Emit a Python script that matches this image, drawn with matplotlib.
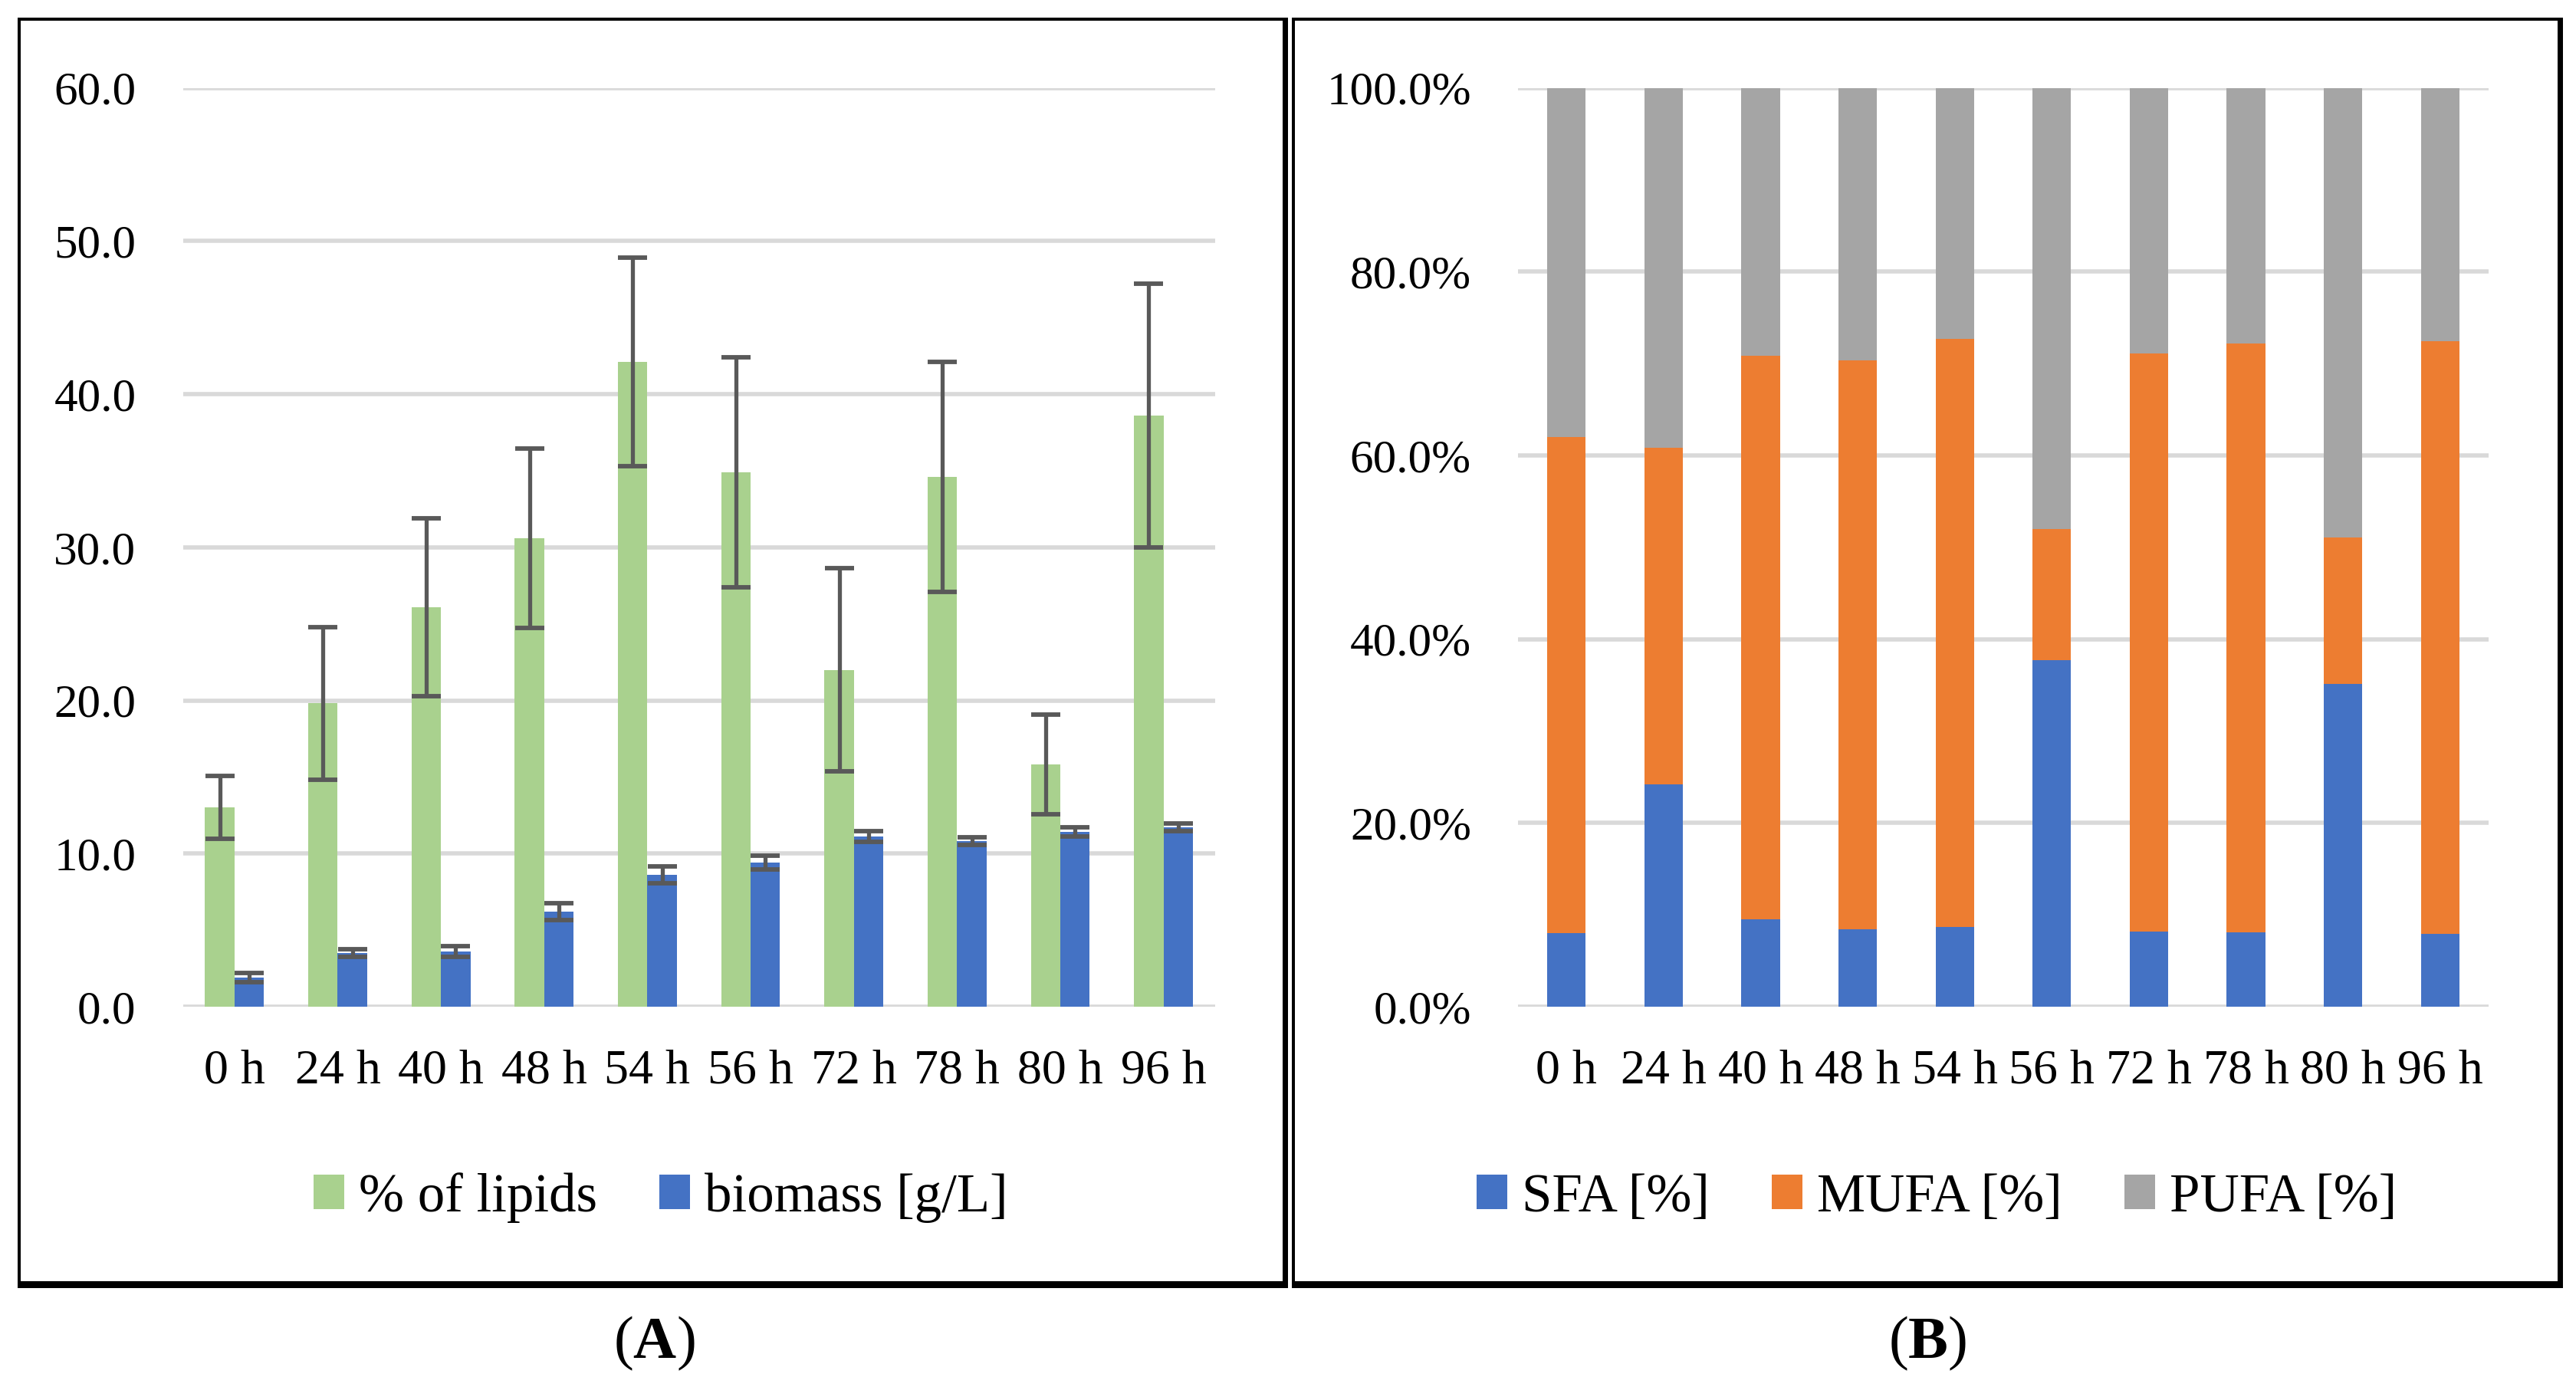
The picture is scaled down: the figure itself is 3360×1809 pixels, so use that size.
"""Two-panel lipid / fatty acid chart: (A) lipids and biomass, (B) SFA/MUFA/PUFA shares."""
import matplotlib
matplotlib.use("Agg")
import matplotlib.pyplot as plt  # noqa: E402
import numpy as np  # noqa: E402
from matplotlib.patches import Rectangle  # noqa: E402
from matplotlib.ticker import FuncFormatter  # noqa: E402

plt.rcParams["font.family"] = ["Liberation Serif", "DejaVu Serif"]
plt.rcParams["mathtext.fontset"] = "custom"
plt.rcParams["mathtext.rm"] = "Liberation Serif"
plt.rcParams["mathtext.bf"] = "Liberation Serif:bold"

hours = ["0 h", "24 h", "40 h", "48 h", "54 h", "56 h", "72 h", "78 h", "80 h", "96 h"]

# panel A
lipids = [13.0, 19.8, 26.1, 30.6, 42.1, 34.9, 22.0, 34.6, 15.8, 38.6]
lipids_err = [2.05, 5.0, 5.8, 5.85, 6.8, 7.5, 6.65, 7.5, 3.25, 8.6]
biomass = [1.9, 3.5, 3.6, 6.2, 8.6, 9.4, 11.1, 10.8, 11.4, 11.7]
biomass_err = [0.3, 0.25, 0.35, 0.55, 0.55, 0.45, 0.35, 0.25, 0.3, 0.25]

# panel B (percent of total fatty acids)
sfa = [8.05, 24.2, 9.5, 8.4, 8.7, 37.7, 8.2, 8.1, 35.1, 7.9]
mufa = [53.95, 36.6, 61.3, 61.9, 64.0, 14.3, 62.9, 64.1, 16.0, 64.5]
pufa = [38.0, 39.2, 29.2, 29.7, 27.3, 48.0, 28.9, 27.8, 48.9, 27.6]

C_GREEN = "#A9D18E"
C_BLUE = "#4472C4"
C_ORANGE = "#ED7D31"
C_GRAY = "#A5A5A5"
C_GRID = "#D9D9D9"
C_ERR = "#595959"

W, H = 3360, 1809
fig = plt.figure(figsize=(W / 100, H / 100), dpi=100)

AX_TOP, AX_BOTTOM = 114.5, 1313  # plot area rows, pixels from top


def fx(px):
    return px / W


def fy(py):
    return 1 - py / H


def block(x0, y0, x1, y1):
    # black filled strip, given in top-left pixel coords
    fig.add_artist(Rectangle((fx(x0), fy(y1)), fx(x1) - fx(x0), fy(y0) - fy(y1),
                             transform=fig.transFigure, color="black", lw=0))


def frame(x0, x1, y0=23, y1=1680):
    block(x0, y0, x1, y0 + 4)        # top
    block(x0, y0, x0 + 4, y1)        # left
    block(x1 - 7, y0, x1, y1)        # right (heavier)
    block(x0, y1 - 9, x1, y1)        # bottom (heavier)


def style_axes(ax):
    for s in ax.spines.values():
        s.set_visible(False)
    ax.set_axisbelow(True)
    ax.grid(axis="y", color=C_GRID, lw=4.0)
    ax.tick_params(axis="y", length=0, pad=44, labelsize=44)
    ax.tick_params(axis="x", length=0, pad=40, labelsize=46)
    ax.set_xlim(-0.5, len(hours) - 0.5)


x = np.arange(len(hours))

# ---- panel A
axA = fig.add_axes([fx(238.5), fy(AX_BOTTOM), fx(1585) - fx(238.5), fy(AX_TOP) - fy(AX_BOTTOM)])
w = 0.285
ekw = dict(ecolor=C_ERR, elinewidth=3.8, capsize=13.5, capthick=4.2)
axA.bar(x - w / 2, lipids, w, color=C_GREEN, yerr=lipids_err, error_kw=ekw,
        label="% of lipids")
axA.bar(x + w / 2, biomass, w, color=C_BLUE, yerr=biomass_err, error_kw=ekw,
        label="biomass [g/L]")
axA.set_ylim(0, 60)
axA.set_yticks(np.arange(0, 61, 10))
axA.yaxis.set_major_formatter(FuncFormatter(lambda v, _: f"{v:.1f}"))
axA.set_xticks(x)
axA.set_xticklabels(hours)
style_axes(axA)

# ---- panel B
axB = fig.add_axes([fx(1980), fy(AX_BOTTOM), fx(3246) - fx(1980), fy(AX_TOP) - fy(AX_BOTTOM)])
wb = 0.395
axB.bar(x, sfa, wb, color=C_BLUE, label="SFA [%]")
axB.bar(x, mufa, wb, bottom=sfa, color=C_ORANGE, label="MUFA [%]")
axB.bar(x, pufa, wb, bottom=np.add(sfa, mufa), color=C_GRAY, label="PUFA [%]")
axB.set_ylim(0, 100)
axB.set_yticks(np.arange(0, 101, 20))
axB.yaxis.set_major_formatter(FuncFormatter(lambda v, _: f"{v:.1f}%"))
axB.set_xticks(x)
axB.set_xticklabels(hours)
style_axes(axB)

# legends below each panel
lkw = dict(loc="center", ncol=3, frameon=False, fontsize=51, handlelength=0.56,
           handleheight=0.6, handletextpad=0.27, columnspacing=1.15)
axA.legend(bbox_to_anchor=(fx(862), fy(1562)), bbox_transform=fig.transFigure, **lkw)
axB.legend(bbox_to_anchor=(fx(2526), fy(1562)), bbox_transform=fig.transFigure, **lkw)

frame(23, 1680)
frame(1685, 3343)

fig.text(fx(853), fy(1752), r"($\mathbf{A}$)", ha="center", va="center", fontsize=56)
fig.text(fx(2514), fy(1752), r"($\mathbf{B}$)", ha="center", va="center", fontsize=56)

fig.savefig("out.png", dpi=100)
